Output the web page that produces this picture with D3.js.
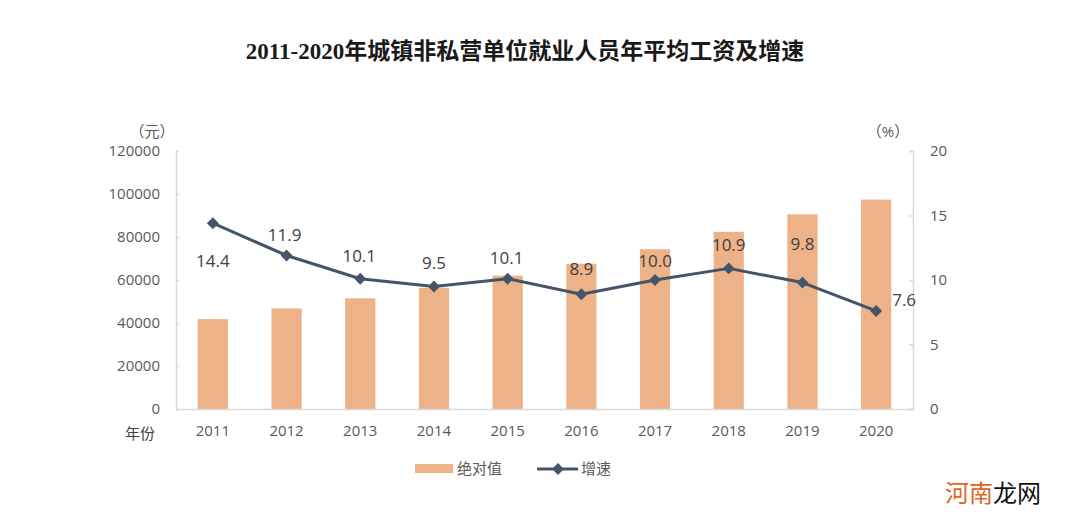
<!DOCTYPE html>
<html><head><meta charset="utf-8">
<script src="https://cdn.jsdelivr.net/npm/d3@7"></script>
<style>
html,body{margin:0;padding:0;background:#fff;}
svg text{font-family:"Open Sans","Noto Sans CJK SC",sans-serif;}
</style></head>
<body>
<svg id="c" width="1080" height="525"></svg>
<script>
const years = ["2011","2012","2013","2014","2015","2016","2017","2018","2019","2020"];
const wages = [41799,46769,51483,56360,62029,67569,74318,82413,90501,97379];
const growth = [14.4,11.9,10.1,9.5,10.1,8.9,10.0,10.9,9.8,7.6];
const leftTicks = [0,20000,40000,60000,80000,100000,120000];
const rightTicks = [0,5,10,15,20];
// label placement (style): offset of value label from its point
const labelDx = [0,-2,-1,0,-1,0,0,0,0,28];
const labelDy = [38,-20,-23,-23,-21,-25,-19,-23,-39,-11];

const svg = d3.select("#c");
const L=176, R=913, T=151, B=409;
const barColor="#EDB287", lineColor="#44546A", axisColor="#D9D9D9", tickText="#595959";

const x = d3.scaleBand().domain(years).range([L,R]).paddingInner(0.59).paddingOuter(0.295);
const yL = d3.scaleLinear().domain([0,120000]).range([B,T]);
const yR = d3.scaleLinear().domain([0,20]).range([B,T]);

// title
svg.append("text").attr("x",525).attr("y",59).attr("text-anchor","middle")
  .style("font-family",'"Liberation Serif","Noto Sans CJK SC",serif')
  .style("font-weight","bold").style("font-size","23px").attr("fill","#1a1a1a")
  .text("2011-2020年城镇非私营单位就业人员年平均工资及增速");

// bars
svg.append("g").selectAll("rect").data(years).join("rect")
  .attr("x",d=>x(d)).attr("width",x.bandwidth())
  .attr("y",(d,i)=>yL(wages[i])).attr("height",(d,i)=>B-yL(wages[i]))
  .attr("fill",barColor);

// axes
const gL = svg.append("g").attr("transform",`translate(${L},0)`)
  .call(d3.axisRight(yL).tickValues(leftTicks).tickSize(3).tickFormat(""));
gL.select(".domain").attr("stroke",axisColor).attr("stroke-width",1.5);
gL.selectAll(".tick line").attr("stroke",axisColor).attr("stroke-width",1.5);
svg.append("g").selectAll("text").data(leftTicks).join("text")
  .attr("x",160).attr("y",d=>yL(d)+5).attr("text-anchor","end")
  .style("font-size","15px").attr("fill",tickText).text(d=>d);

const gR = svg.append("g").attr("transform",`translate(${R},0)`)
  .call(d3.axisLeft(yR).tickValues(rightTicks).tickSize(4).tickFormat(""));
gR.select(".domain").attr("stroke",axisColor).attr("stroke-width",1.5);
gR.selectAll(".tick line").attr("stroke",axisColor).attr("stroke-width",1.5);
svg.append("g").selectAll("text").data(rightTicks).join("text")
  .attr("x",930).attr("y",d=>yR(d)+5).attr("text-anchor","start")
  .style("font-size","15px").attr("fill",tickText).text(d=>d);

const gB = svg.append("g").attr("transform",`translate(0,${B})`)
  .call(d3.axisBottom(x).tickSize(0).tickPadding(16));
gB.select(".domain").attr("stroke",axisColor).attr("stroke-width",1.5);
gB.selectAll("text").style("font-size","15px").style("font-family",'"Open Sans",sans-serif').attr("fill",tickText);

// unit labels
svg.append("text").attr("x",152).attr("y",137).attr("text-anchor","middle")
  .style("font-size","15px").attr("fill",tickText).text("（元）");
svg.append("text").attr("x",888).attr("y",137).attr("text-anchor","middle")
  .style("font-size","15px").attr("fill",tickText).text("（%）");
svg.append("text").attr("x",140).attr("y",439).attr("text-anchor","middle")
  .style("font-size","15px").attr("fill","#404040").text("年份");

// line
const cx = d=>x(d)+x.bandwidth()/2;
const line = d3.line().x((d,i)=>cx(years[i])).y(d=>yR(d));
svg.append("path").datum(growth).attr("d",line)
  .attr("fill","none").attr("stroke",lineColor).attr("stroke-width",3).attr("stroke-linejoin","round");
const diamond = d3.symbol().type(d3.symbolDiamond2).size(90);
svg.append("g").selectAll("path").data(growth).join("path")
  .attr("d",diamond).attr("transform",(d,i)=>`translate(${cx(years[i])},${yR(d)})`)
  .attr("fill",lineColor);

// value labels
svg.append("g").selectAll("text").data(growth).join("text")
  .attr("x",(d,i)=>cx(years[i])+labelDx[i]).attr("y",(d,i)=>yR(d)+labelDy[i]+6)
  .attr("text-anchor","middle").style("font-size","17px").attr("fill","#404040")
  .text(d=>d.toFixed(1));

// legend
const lg = svg.append("g");
lg.append("rect").attr("x",415).attr("y",464).attr("width",38).attr("height",9).attr("fill",barColor);
lg.append("text").attr("x",457).attr("y",474).style("font-size","15px").attr("fill",tickText).text("绝对值");
lg.append("line").attr("x1",537).attr("x2",578).attr("y1",469).attr("y2",469).attr("stroke",lineColor).attr("stroke-width",3);
lg.append("path").attr("d",diamond).attr("transform","translate(558,469)").attr("fill",lineColor);
lg.append("text").attr("x",581).attr("y",474).style("font-size","15px").attr("fill",tickText).text("增速");

// watermark
const wm = svg.append("text").attr("x",945).attr("y",502).style("font-size","24px")
  .style("font-family",'"Noto Sans CJK SC",sans-serif');
wm.append("tspan").attr("fill","#E0651F").text("河南");
wm.append("tspan").attr("fill","#111").text("龙网");
</script>
</body></html>
